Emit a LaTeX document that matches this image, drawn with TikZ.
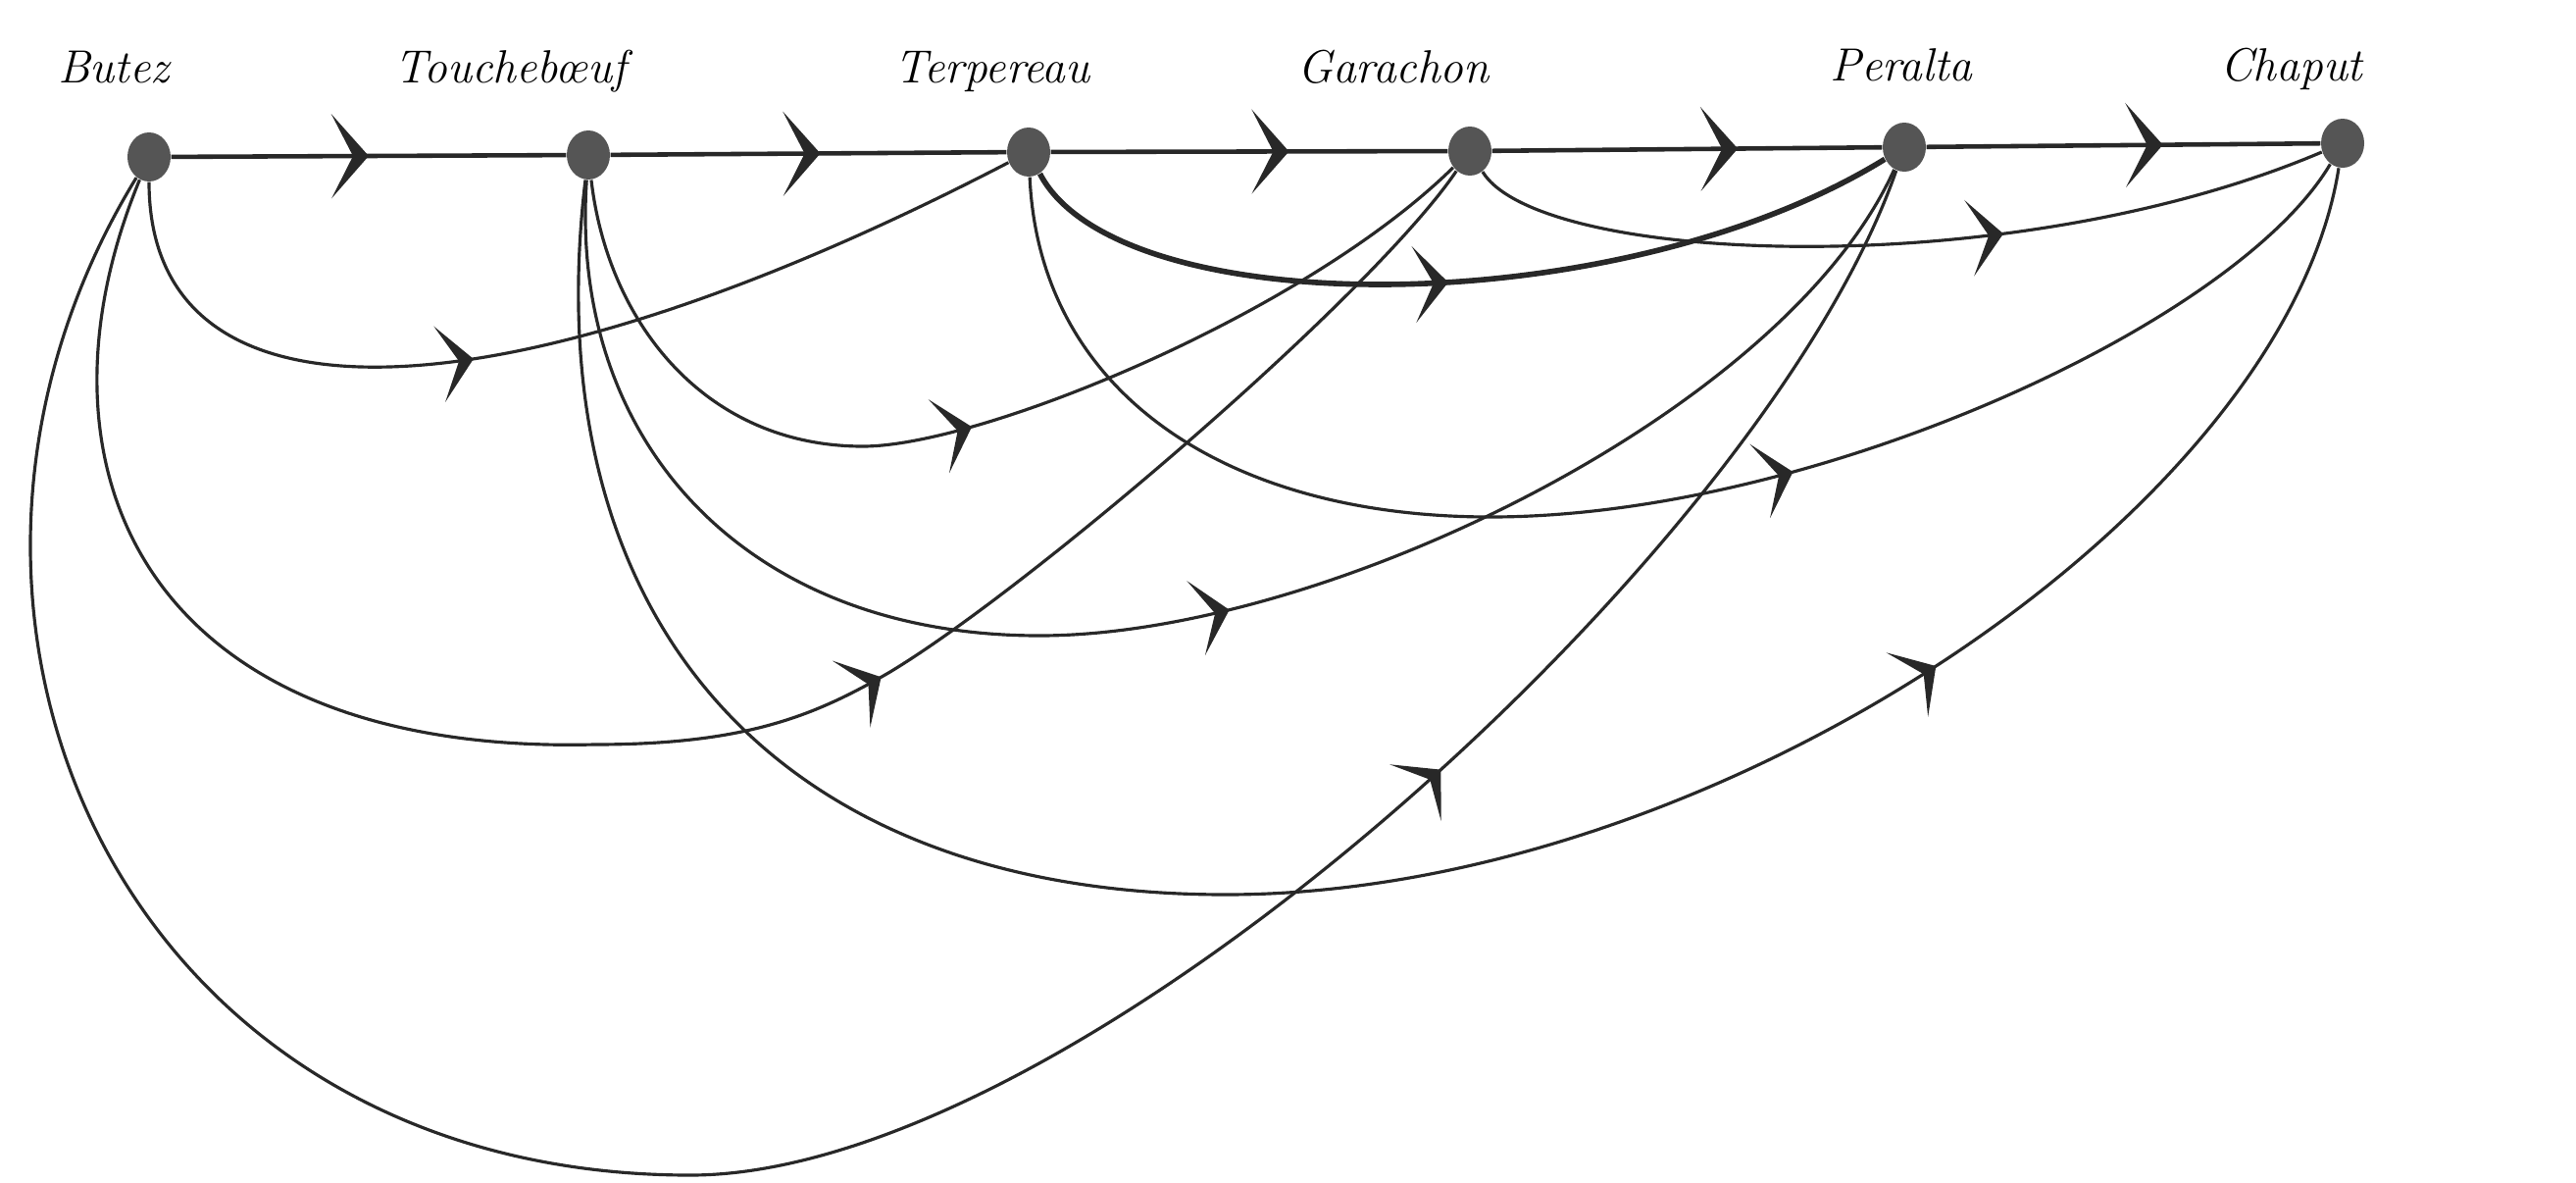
\documentclass[tikz,border=0pt]{standalone}
\usepackage{xcolor}
\usetikzlibrary{arrows.meta,decorations.markings,positioning,shapes.geometric}
\definecolor{Ink}{RGB}{40,40,40}
\definecolor{DotGray}{RGB}{85,85,85}

\tikzset{
  person/.style={ellipse, fill=DotGray, inner sep=0pt,
    minimum width=4.4mm, minimum height=5mm},
  lbl/.style={font=\itshape\fontsize{13.5}{16}\selectfont, anchor=base, inner sep=0pt},
  tie/.style={draw=Ink, line width=0.9pt},
  linetie/.style={draw=Ink, line width=1.3pt},
  heavytie/.style={draw=Ink, line width=1.6pt},
  midarrow/.style={postaction={decorate},
    decoration={markings, mark=at position #1 with
      {\arrow[Ink, line width=0.8pt]{Stealth[length=3.5mm,width=7.8mm,inset=2mm]}}}},
  bigarrow/.style={postaction={decorate},
    decoration={markings, mark=at position #1 with
      {\arrow[Ink, line width=0.8pt]{Stealth[length=3.8mm,width=8.6mm,inset=2.2mm]}}}}
}

\begin{document}
\begin{tikzpicture}[x=0.1mm,y=-0.1mm]
  \useasboundingbox (0,0) rectangle (2627,1205);

  % the six players
  \node[person] (butez)   at (152,160)  {};
  \node[person] (touche)  at (600,158)  {};
  \node[person] (terp)    at (1049,155) {};
  \node[person] (gara)    at (1499,154) {};
  \node[person] (peralta) at (1942,150) {};
  \node[person] (chaput)  at (2389,146) {};

  \node[lbl] (l-butez)   at (116,84)  {Butez};
  \node[lbl] (l-touche)  at (521,84)  {Touchebœuf};
  \node[lbl] (l-terp)    at (1012,84) {Terpereau};
  \node[lbl] (l-gara)    at (1421,84) {Garachon};
  \node[lbl] (l-peralta) at (1939,82) {Peralta};
  \node[lbl] (l-chaput)  at (2337,82) {Chaput};

  % along the line
  \draw[linetie, bigarrow=0.5]  (butez) -- (touche);
  \draw[linetie, bigarrow=0.53] (touche) -- (terp);
  \draw[linetie, bigarrow=0.6]  (terp) -- (gara);
  \draw[linetie, bigarrow=0.63] (gara) -- (peralta);
  \draw[linetie, bigarrow=0.6]  (peralta) -- (chaput);

  % from Butez
  \draw[tie, midarrow=0.43] (butez) .. controls (152,450) and (520,430) .. (terp);
  \draw[tie, midarrow=0.61] (butez) .. controls (20,480) and (150,770) .. (606,759)
    .. controls (760,759) and (830,730) .. (906,686)
    .. controls (1050,600) and (1400,300) .. (gara);
  \draw[tie, midarrow=0.75] (butez) .. controls (-130,620) and (120,1198) .. (704,1198)
    .. controls (1100,1198) and (1800,560) .. (peralta);

  % from Touchebœuf
  \draw[tie, midarrow=0.49] (touche) .. controls (620,330) and (720,455) .. (880,455)
    .. controls (1000,455) and (1330,320) .. (gara);
  \draw[tie, midarrow=0.53] (touche) .. controls (580,450) and (760,648) .. (1060,648)
    .. controls (1350,648) and (1820,420) .. (peralta);
  \draw[tie, midarrow=0.74] (touche) .. controls (545,620) and (780,912) .. (1250,912)
    .. controls (1750,912) and (2330,520) .. (chaput);

  % from Terpereau
  \draw[heavytie, midarrow=0.49] (terp) .. controls (1140,330) and (1650,330) .. (peralta);
  \draw[tie, midarrow=0.6] (terp) .. controls (1060,400) and (1250,527) .. (1520,527)
    .. controls (1850,527) and (2280,330) .. (chaput);

  % from Garachon
  \draw[tie, midarrow=0.62] (gara) .. controls (1570,270) and (2050,290) .. (chaput);
\end{tikzpicture}
\end{document}
